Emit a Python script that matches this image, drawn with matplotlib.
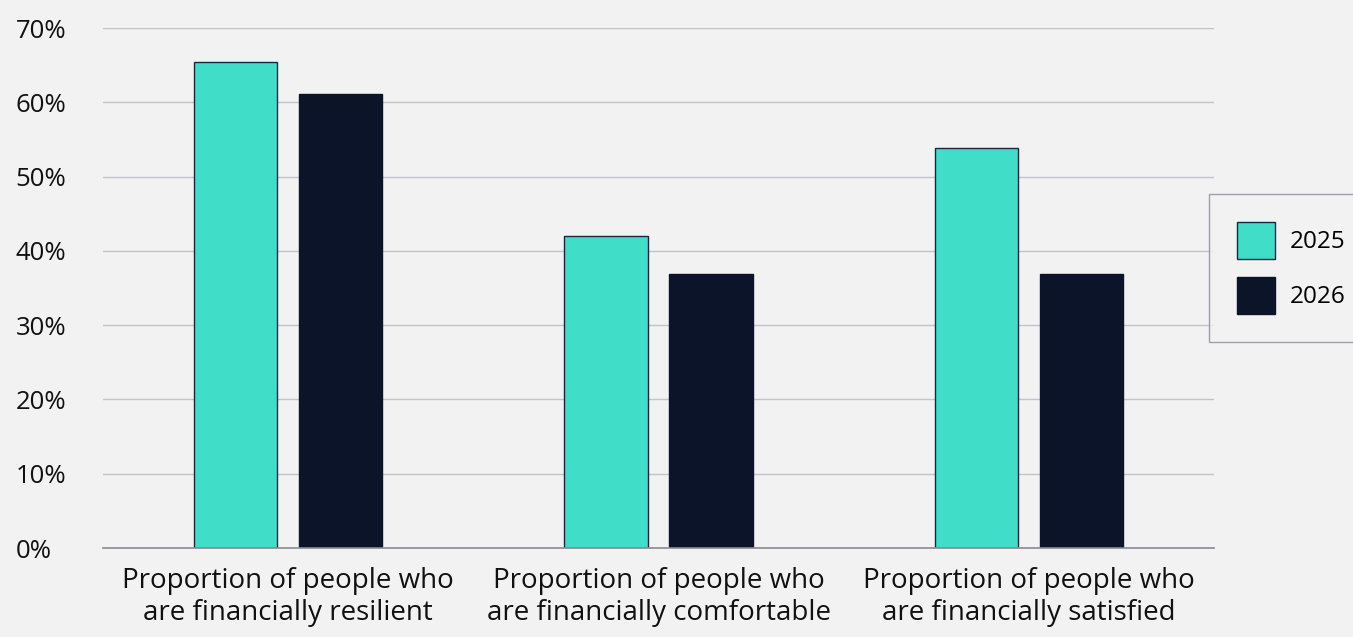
import matplotlib
matplotlib.use("Agg")
import numpy as np
from matplotlib import pyplot as plt
from matplotlib.patches import Patch

categories = ["Proportion of people who\nare financially resilient",
              "Proportion of people who\nare financially comfortable",
              "Proportion of people who\nare financially satisfied"]
years = ["2025", "2026"]
values_2025 = [65.4, 42.0, 53.9]
values_2026 = [61.1, 36.9, 36.9]
yticks = [0, 10, 20, 30, 40, 50, 60, 70]

bg = "#f2f2f2"
cyan = "#40dec8"
navy = "#0b1428"
plt.rcParams['font.family'] = ['Open Sans', 'DejaVu Sans']

fig = plt.figure(figsize=(13.53, 6.37), dpi=100, facecolor=bg)
ax = fig.add_axes([0.0761, 0.1397, 0.8212, 0.8163], facecolor=bg)

x = np.arange(len(categories))
w = 0.225
ax.bar(x - 0.142, values_2025, w, color=cyan, edgecolor="#1a2540", linewidth=1, zorder=3)
ax.bar(x + 0.142, values_2026, w, color=navy, edgecolor=navy, linewidth=1, zorder=3)

ax.set_xlim(-0.5, 2.5)
ax.set_ylim(0, 70)
ax.set_yticks(yticks)
ax.set_yticklabels([f"{t}%" for t in yticks], ha="left", fontsize=18.5)
ax.tick_params(axis="y", length=0, pad=63, labelcolor="#111111")
ax.set_xticks(x)
ax.set_xticklabels(categories, fontsize=20, linespacing=1.15, color="#111111")
ax.tick_params(axis="x", length=0, pad=14)
ax.yaxis.grid(True, color="#c2c2cc", linewidth=1, zorder=0)
for s in ["top", "right", "left"]:
    ax.spines[s].set_visible(False)
ax.spines["bottom"].set_color("#8a8a99")
ax.spines["bottom"].set_linewidth(1.2)
ax.spines["bottom"].set_zorder(4)

handles = [Patch(facecolor=cyan, edgecolor="#1a2540"), Patch(facecolor=navy, edgecolor=navy)]
leg = fig.legend(handles, years, loc="lower left", bbox_to_anchor=(0.8936, 0.463),
                 borderaxespad=0, fontsize=17.5, frameon=True, fancybox=False,
                 handlelength=1.56, handleheight=1.95, handletextpad=0.6,
                 labelspacing=0.75, borderpad=1.15)
leg.get_frame().set_edgecolor("#8a8a99")
leg.get_frame().set_facecolor(bg)
leg.get_frame().set_linewidth(1)

fig.savefig("out.png", dpi=100, facecolor=bg)
